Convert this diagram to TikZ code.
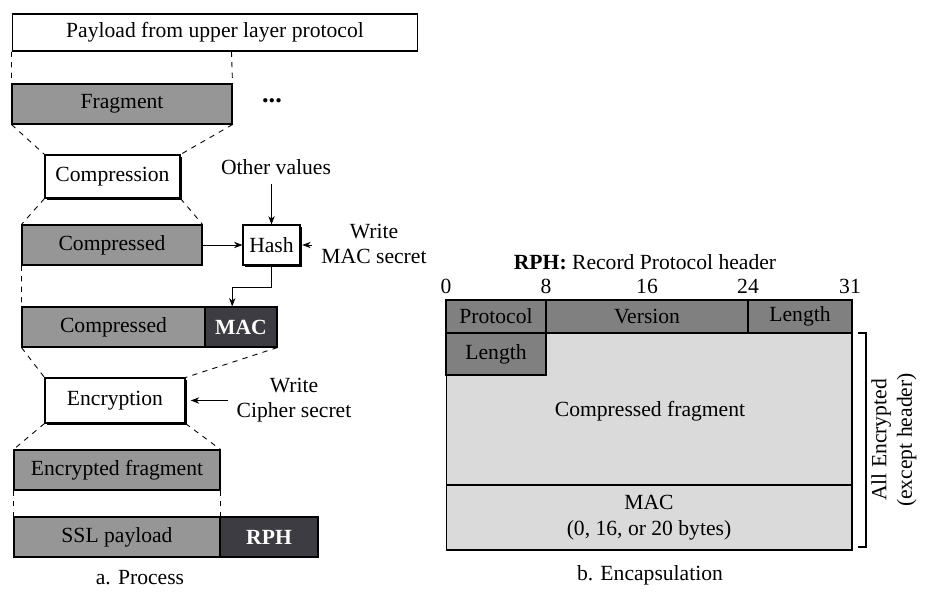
\documentclass[tikz,border=0pt]{standalone}
\usepackage{fontspec}
\setmainfont{Liberation Serif}
\usetikzlibrary{arrows.meta,shadows}
\definecolor{midgray}{RGB}{150,150,150}
\definecolor{darkfill}{RGB}{60,60,66}
\definecolor{hdrgray}{RGB}{128,128,128}
\definecolor{lightfill}{RGB}{218,218,218}

\begin{document}
\begin{tikzpicture}[
    x=0.02cm, y=-0.02cm,
    >=Stealth,
    every node/.style = {inner sep=0pt, font=\fontsize{12.3}{14.5}\selectfont},
    plain/.style  = {rectangle, draw=black, fill=white, line width=0.6pt},
    grayblk/.style = {rectangle, draw=black, fill=midgray, line width=0.6pt},
    darkblk/.style = {rectangle, draw=black, fill=darkfill, text=white,
                      font=\fontsize{12.3}{14.5}\selectfont\bfseries, line width=0.6pt},
    procbox/.style = {rectangle, draw=black, fill=white, line width=0.6pt,
                      drop shadow={shadow xshift=1.2pt, shadow yshift=-1.2pt,
                                   fill=black, opacity=1}},
    hdr/.style    = {rectangle, draw=black, fill=hdrgray, line width=0.6pt},
    light/.style  = {rectangle, draw=black, fill=lightfill, line width=0.6pt},
    guide/.style  = {dashed, line width=0.5pt},
    lbl/.style    = {align=center},
  ]
  \useasboundingbox (0,0) rectangle (928,591);
  % a. process column
  \node[plain, minimum width=8.12cm, minimum height=0.74cm] (pay) at (215,32.5)
    {Payload from upper layer protocol};
  \node[grayblk, minimum width=4.4cm, minimum height=0.8cm] (frag) at (122,104) {Fragment};
  \node (dots) at (272,101) {\fontsize{15}{15}\selectfont\bfseries...};
  \node[procbox, minimum width=2.7cm, minimum height=0.86cm] (comp) at (112.5,176.5) {Compression};
  \node[grayblk, minimum width=3.6cm, minimum height=0.8cm] (cfrag) at (112,245) {Compressed};
  \node[procbox, minimum width=1.14cm, minimum height=0.8cm] (hash) at (271.5,245) {Hash};
  \node[lbl] (other) at (276,167) {Other values};
  \node[lbl] (macsec) at (374,244) {Write\\MAC secret};
  \node[grayblk, minimum width=3.66cm, minimum height=0.8cm] (cmac) at (113.5,327) {Compressed};
  \node[darkblk, minimum width=1.44cm, minimum height=0.8cm] (mac) at (241,327) {MAC};
  \node[procbox, minimum width=2.8cm, minimum height=0.9cm] (enc) at (115,400.5) {Encryption};
  \node[lbl] (ciphsec) at (294,400) {Write\\Cipher secret};
  \node[grayblk, minimum width=4.12cm, minimum height=0.8cm] (efrag) at (117,470) {Encrypted fragment};
  \node[grayblk, minimum width=4.12cm, minimum height=0.8cm] (ssl) at (117,537) {SSL payload};
  \node[darkblk, minimum width=1.96cm, minimum height=0.8cm] (rph) at (269,537) {RPH};
  \node (capa) at (140,578) {a. Process};
  % dashed guides between stages
  \draw[guide] (pay.south west) -- (frag.north west);
  \draw[guide] ([xshift=4.4cm]pay.south west) -- (frag.north east);
  \draw[guide] (frag.south west) -- (comp.north west);
  \draw[guide] (frag.south east) -- (comp.north east);
  \draw[guide] (comp.south west) -- (cfrag.north west);
  \draw[guide] (comp.south east) -- (cfrag.north east);
  \draw[guide] (cfrag.south west) -- (cmac.north west);
  \draw[guide] (cmac.south west) -- (enc.north west);
  \draw[guide] (mac.south east) -- (enc.north east);
  \draw[guide] (enc.south west) -- (efrag.north west);
  \draw[guide] (enc.south east) -- (efrag.north east);
  \draw[guide] (efrag.south west) -- (ssl.north west);
  \draw[guide] (efrag.south east) -- (ssl.north east);
  % arrows
  \draw[->] (cfrag) -- (hash);
  \draw[->] ([yshift=-5pt]other.south -| hash.north) -- (hash.north);
  \draw[->] ([xshift=-5pt]macsec.west |- hash.east) coordinate (msin) -- ([xshift=1pt]hash.east);
  \draw[->] (hash.south) -- ++(0,22) -| ([xshift=-5]mac.north);
  \draw[->] ([xshift=-5pt]ciphsec.west |- enc.east) coordinate (csin) -- ([xshift=3pt]enc.east);
  % b. encapsulation
  \node (rphtitle) at (645,262) {\textbf{RPH:} Record Protocol header};
  \node (b0)  at (446,286) {0};
  \node (b8)  at (546,286) {8};
  \node (b16) at (647,286) {16};
  \node (b24) at (748,286) {24};
  \node (b31) at (850,286) {31};
  \node[light, minimum width=8.12cm, minimum height=3.04cm] (body) at (649,409) {};
  \node (cfragtxt) at (650,411) {Compressed fragment};
  \node[hdr, minimum width=2.0cm, minimum height=0.66cm] (proto) at (496,316.5) {Protocol};
  \node[hdr, minimum width=4.04cm, minimum height=0.66cm] (vers) at (647,316.5) {Version};
  \node[hdr, minimum width=2.08cm, minimum height=0.66cm] (lenA) at (800,316.5) {Length};
  \node[hdr, minimum width=2.0cm, minimum height=0.84cm] (lenB) at (496,354) {Length};
  \node[light, minimum width=8.12cm, minimum height=1.3cm, align=center] (macrow) at (649,517.5)
    {MAC\\(0, 16, or 20 bytes)};
  % bracket for the encrypted part
  \coordinate (brt) at (858,333);
  \coordinate (brb) at (858,547);
  \draw[line width=0.6pt] (brt) -- ++(8,0) |- (brb);
  \node[lbl, rotate=90] (enctxt) at (894,440) {All Encrypted\\(except header)};
  \node (capb) at (650,575) {b. Encapsulation};
\end{tikzpicture}
\end{document}
